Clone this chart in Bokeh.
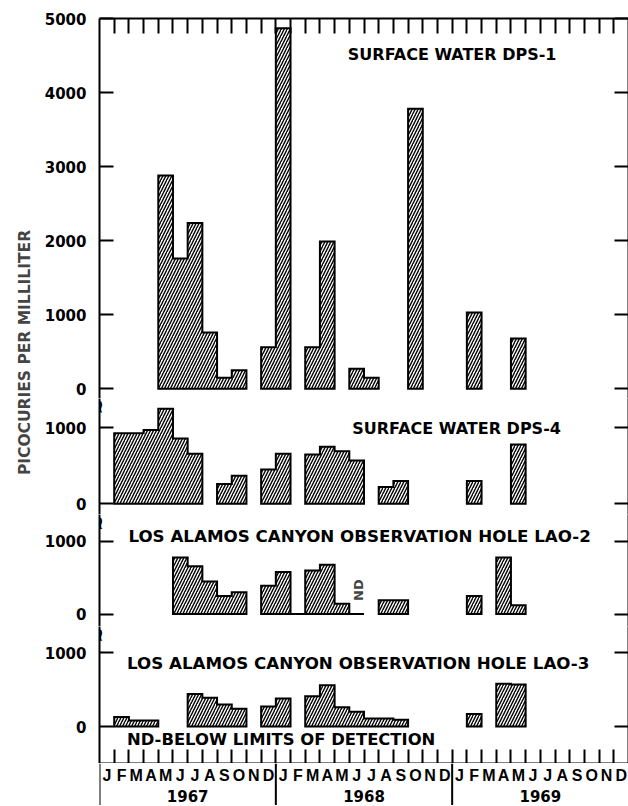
import math
from bokeh.plotting import figure
from bokeh.layouts import row, column
from bokeh.models import Range1d, FixedTicker, LinearAxis, Span, Label, ColumnDataSource
from bokeh.embed import file_html
from bokeh.resources import INLINE
from bokeh.core.properties import value

# ---------------- data (monthly, Jan 1967 .. Dec 1969) ----------------
month_letters = ["J", "F", "M", "A", "M", "J", "J", "A", "S", "O", "N", "D"] * 3
years = ["1967", "1968", "1969"]
N = None
dps1 = [N, N, N, N, 2880, 1760, 2240, 760, 150, 250, N, 560,
        4870, N, 560, 1990, N, 270, 150, N, N, 3780, N, N,
        N, 1030, N, N, 680, N, N, N, N, N, N, N]
dps4 = [N, 930, 930, 970, 1250, 860, 660, N, 260, 370, N, 450,
        660, N, 650, 750, 690, 570, N, 220, 300, N, N, N,
        N, 300, N, N, 780, N, N, N, N, N, N, N]
lao2 = [N, N, N, N, N, 780, 660, 450, 250, 300, N, 390,
        580, 0, 600, 680, 140, 0, N, 190, 190, N, N, N,
        N, 250, N, 780, 120, N, N, N, N, N, N, N]
lao3 = [N, 130, 80, 80, N, N, 440, 390, 300, 240, N, 270,
        380, N, 410, 560, 260, 200, 110, 110, 90, N, N, N,
        N, 170, N, 580, 570, N, N, N, N, N, N, N]
titles = ["SURFACE WATER DPS-1", "SURFACE WATER DPS-4",
          "LOS ALAMOS CANYON OBSERVATION HOLE LAO-2",
          "LOS ALAMOS CANYON OBSERVATION HOLE LAO-3"]
nd_note = "ND-BELOW LIMITS OF DETECTION"
y_title = "PICOCURIES PER MILLILITER"

NM = len(month_letters)
bounds = list(range(1, NM))
FW = 529
LW = 41
LB = 58
FONT = "DejaVu Sans"
LET = "Liberation Sans"


def runs(vals):
    xs, ys = [], []
    i = 0
    n = len(vals)
    while i < n:
        if vals[i] is None:
            i += 1
            continue
        px, py = [i], [0]
        j = i
        while j < n and vals[j] is not None:
            px += [j, j + 1]
            py += [vals[j], vals[j]]
            j += 1
        px.append(j)
        py.append(0)
        xs.append(px)
        ys.append(py)
        i = j
    return xs, ys


def tick_axis(minor, tin):
    return LinearAxis(ticker=FixedTicker(ticks=[], minor_ticks=minor), major_tick_in=0,
                      major_tick_out=0, minor_tick_in=tin, minor_tick_out=0,
                      minor_tick_line_width=2, axis_line_width=2, major_label_standoff=0)


def panel(fh, y0, y1, ticks, top=0, bottom=0):
    p = figure(frame_width=FW, frame_height=fh, x_range=Range1d(0, NM), y_range=Range1d(y0, y1),
               output_backend="svg", toolbar_location=None, x_axis_type=None, y_axis_type=None,
               min_border_left=LB, min_border_right=0, min_border_top=top, min_border_bottom=bottom)
    p.outline_line_color = None
    p.background_fill_color = "white"
    left = LinearAxis(ticker=FixedTicker(ticks=ticks), major_tick_in=14, major_tick_out=0,
                      axis_line_width=2, major_tick_line_width=2, major_label_standoff=13,
                      major_label_text_font=FONT, major_label_text_font_style="bold",
                      major_label_text_font_size="15px", major_label_text_color="black")
    p.add_layout(left, "left")
    p.add_layout(tick_axis(ticks, 14), "right")
    return p


def bars(p, vals):
    xs, ys = runs(vals)
    p.patches(xs, ys, fill_color=None, line_color="black", line_width=2, line_join="miter",
              hatch_pattern="/", hatch_color="black", hatch_scale=6, hatch_weight=1.4)


def brk(p, y):
    p.add_layout(Label(x=0, y=y, text="~", angle=math.pi / 2, text_align="center",
                       text_baseline="middle", text_font=FONT, text_font_style="bold",
                       text_font_size="18px", text_color="black"))


def title(p, x, y, t, size):
    p.add_layout(Label(x=x, y=y, text=t, text_align="center", text_baseline="middle",
                       text_font=FONT, text_font_style="bold", text_font_size=size,
                       text_color="black"))


# panel 1
p1 = panel(380, -131, 5000, [0, 1000, 2000, 3000, 4000, 5000], top=18)
p1.add_layout(tick_axis(bounds, 15), "above")
bars(p1, dps1)
title(p1, 24.0, 4508, titles[0], "16px")

# panel 2
p2 = panel(116, -141, 1386, [0, 1000])
bars(p2, dps4)
title(p2, 24.3, 991, titles[1], "16px")
brk(p2, 1275)

# panel 3
p3 = panel(112, -172, 1372, [0, 1000])
bars(p3, lao2)
title(p3, 17.7, 1076, titles[2], "16.7px")
p3.add_layout(Label(x=17.6, y=330, text="ND", angle=math.pi / 2, text_align="center",
                    text_baseline="middle", text_font=FONT, text_font_style="bold",
                    text_font_size="13px"))
brk(p3, 1250)

# panel 4
p4 = panel(137, -502, 1357, [0, 1000])
p4.add_layout(tick_axis(bounds, 14), "below")
bars(p4, lao3)
title(p4, 17.6, 862, titles[3], "16.7px")
title(p4, 12.36, -176, nd_note, "16.4px")
brk(p4, 1240)

# bottom strip with month / year labels
p5 = figure(frame_width=FW, frame_height=42, x_range=Range1d(0, NM), y_range=Range1d(0, 1),
            output_backend="svg", toolbar_location=None, x_axis_type=None, y_axis_type=None,
            min_border_left=LB, min_border_right=0, min_border_top=0, min_border_bottom=0)
p5.outline_line_color = None
for yb in range(0, NM, 12):
    p5.add_layout(Span(location=yb, dimension="height", line_color="black", line_width=2))
msrc = ColumnDataSource(dict(x=[i + 0.5 for i in range(NM)], y=[0.71] * NM, t=month_letters))
p5.text(x="x", y="y", text="t", source=msrc, text_align="center", text_baseline="middle",
        text_font=value(LET), text_font_style="bold", text_font_size="16px", text_color="black")
ysrc = ColumnDataSource(dict(x=[12 * k + 6 for k in range(len(years))], y=[0.23] * len(years), t=years))
p5.text(x="x", y="y", text="t", source=ysrc, text_align="center", text_baseline="middle",
        text_font=value(FONT), text_font_style="bold", text_font_size="15px", text_color="black")

# y-axis title strip
lab = figure(width=LW, height=806, x_range=Range1d(0, LW), y_range=Range1d(0, 806),
             output_backend="svg", toolbar_location=None, x_axis_type=None, y_axis_type=None,
             min_border=0)
lab.outline_line_color = None
lab.add_layout(Label(x=24, y=454, text=y_title, angle=math.pi / 2, text_align="center",
                     text_baseline="middle", text_font=FONT, text_font_style="bold",
                     text_font_size="15.5px"))

layout = row(lab, column(p1, p2, p3, p4, p5, spacing=0), spacing=0)
open("out.html", "w").write(file_html(layout, INLINE))
